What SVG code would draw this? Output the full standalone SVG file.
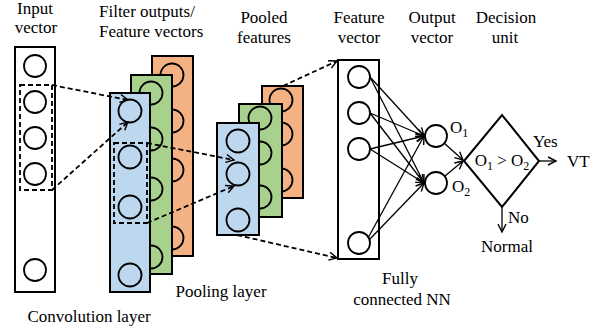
<svg xmlns="http://www.w3.org/2000/svg" width="602" height="333" viewBox="0 0 602 333">
<style>
text{font-family:"Liberation Serif","Times New Roman",serif;font-size:17px;fill:#000}
.box{stroke:#000;stroke-width:2}
.w{fill:#fff}.b{fill:#BDD7EE}.g{fill:#A9D18E}.o{fill:#F4B183}
.c{stroke:#000;stroke-width:1.8}
.dash{fill:none;stroke:#000;stroke-width:1.8;stroke-dasharray:5,3}
.ln{fill:none;stroke:#000;stroke-width:1.3}
</style>
<defs>
<marker id="ah" markerUnits="userSpaceOnUse" markerWidth="10" markerHeight="10" refX="8" refY="4" orient="auto" overflow="visible">
<path d="M0,0 L8,4 L0,8" fill="none" stroke="#000" stroke-width="1.4"/>
</marker>
</defs>

<g id="labels">
<text x="35" y="14" text-anchor="middle">Input</text>
<text x="36" y="33" text-anchor="middle">vector</text>
<text x="99" y="17">Filter outputs/</text>
<text x="99" y="37">Feature vectors</text>
<text x="264" y="23" text-anchor="middle">Pooled</text>
<text x="264" y="43" text-anchor="middle">features</text>
<text x="359" y="23" text-anchor="middle">Feature</text>
<text x="359" y="43" text-anchor="middle">vector</text>
<text x="432" y="23" text-anchor="middle">Output</text>
<text x="432" y="43" text-anchor="middle">vector</text>
<text x="506" y="23" text-anchor="middle">Decision</text>
<text x="505" y="43" text-anchor="middle">unit</text>
<text x="89" y="322" text-anchor="middle">Convolution layer</text>
<text x="221" y="297" text-anchor="middle">Pooling layer</text>
<text x="400" y="284" text-anchor="middle">Fully</text>
<text x="402" y="305" text-anchor="middle">connected NN</text>
</g>

<g id="input-vector">
<rect class="box w" x="15" y="47" width="40" height="245"/>
<circle class="c w" cx="35" cy="66" r="11"/>
<circle class="c w" cx="35" cy="102" r="11"/>
<circle class="c w" cx="35" cy="138" r="11"/>
<circle class="c w" cx="35" cy="174" r="11"/>
<circle class="c w" cx="35" cy="270" r="11"/>
<rect class="dash" x="20" y="85" width="32" height="105"/>
</g>

<g id="filter-orange">
<rect class="box o" x="152" y="56" width="41" height="200"/>
<circle class="c o" cx="172" cy="75" r="11.5"/>
<circle class="c o" cx="172" cy="121" r="11.5"/>
<circle class="c o" cx="172" cy="170" r="11.5"/>
<circle class="c o" cx="172" cy="238" r="11.5"/>
</g>
<g id="filter-green">
<rect class="box g" x="131" y="75" width="41" height="199"/>
<circle class="c g" cx="151" cy="93" r="11.5"/>
<circle class="c g" cx="151" cy="139" r="11.5"/>
<circle class="c g" cx="151" cy="189" r="11.5"/>
<circle class="c g" cx="151" cy="257" r="11.5"/>
</g>
<g id="filter-blue">
<rect class="box b" x="110" y="93" width="40" height="199"/>
<circle class="c b" cx="130" cy="111" r="11.5"/>
<circle class="c b" cx="130" cy="157" r="11.5"/>
<circle class="c b" cx="130" cy="207" r="11.5"/>
<circle class="c b" cx="130" cy="275" r="11.5"/>
<rect class="dash" x="114" y="143" width="33" height="80"/>
</g>

<g id="pooled-orange">
<rect class="box o" x="262" y="86" width="41" height="112"/>
<circle class="c o" cx="281" cy="100" r="11.5"/>
<circle class="c o" cx="281" cy="134" r="11.5"/>
<circle class="c o" cx="281" cy="180" r="11.5"/>
</g>
<g id="pooled-green">
<rect class="box g" x="239" y="104" width="43" height="113"/>
<circle class="c g" cx="260" cy="118" r="11.5"/>
<circle class="c g" cx="260" cy="153" r="11.5"/>
<circle class="c g" cx="260" cy="197" r="11.5"/>
</g>
<g id="pooled-blue">
<rect class="box b" x="217" y="123" width="42" height="112"/>
<circle class="c b" cx="238" cy="141" r="11.5"/>
<circle class="c b" cx="238" cy="174" r="11.5"/>
<circle class="c b" cx="238" cy="220" r="11.5"/>
</g>

<g id="feature-vector">
<rect class="box w" x="338" y="60" width="41" height="199"/>
<circle class="c w" cx="359" cy="77" r="11"/>
<circle class="c w" cx="359" cy="113" r="11"/>
<circle class="c w" cx="359" cy="149" r="11"/>
<circle class="c w" cx="359" cy="243" r="11"/>
</g>

<g id="output-vector">
<circle class="c w" cx="436" cy="136" r="11"/>
<circle class="c w" cx="436" cy="183" r="11"/>
<text x="450" y="133">O<tspan font-size="12" dy="4">1</tspan></text>
<text x="452" y="192">O<tspan font-size="12" dy="4">2</tspan></text>
</g>

<g id="decision-unit">
<polygon points="464,161 502,115 539,161 502,207" fill="#fff" stroke="#000" stroke-width="2"/>
<text x="502" y="166" text-anchor="middle">O<tspan font-size="12" dy="4">1</tspan><tspan dy="-4"> &gt; O</tspan><tspan font-size="12" dy="4">2</tspan></text>
<text x="533" y="147">Yes</text>
<text x="567" y="167">VT</text>
<text x="508" y="223">No</text>
<text x="507" y="252" text-anchor="middle">Normal</text>
</g>

<g id="connectors">
<line class="dash" x1="52" y1="85" x2="128" y2="100" marker-end="url(#ah)"/>
<line class="dash" x1="52" y1="190" x2="128" y2="122" marker-end="url(#ah)"/>
<line class="dash" x1="147" y1="143" x2="234" y2="160" marker-end="url(#ah)"/>
<line class="dash" x1="147" y1="223" x2="234" y2="186" marker-end="url(#ah)"/>
<line class="dash" x1="283" y1="86" x2="337" y2="61" marker-end="url(#ah)"/>
<line class="dash" x1="237" y1="235" x2="337" y2="258" marker-end="url(#ah)"/>

<line class="ln" x1="370" y1="77" x2="424" y2="136" marker-end="url(#ah)"/>
<line class="ln" x1="370" y1="77" x2="424" y2="183" marker-end="url(#ah)"/>
<line class="ln" x1="370" y1="113" x2="424" y2="136" marker-end="url(#ah)"/>
<line class="ln" x1="370" y1="113" x2="424" y2="183" marker-end="url(#ah)"/>
<line class="ln" x1="370" y1="149" x2="424" y2="136" marker-end="url(#ah)"/>
<line class="ln" x1="370" y1="149" x2="424" y2="183" marker-end="url(#ah)"/>
<line class="ln" x1="368" y1="238" x2="424" y2="136" marker-end="url(#ah)"/>
<line class="ln" x1="369" y1="240" x2="424" y2="183" marker-end="url(#ah)"/>

<line class="ln" x1="444" y1="143" x2="463" y2="160" marker-end="url(#ah)"/>
<line class="ln" x1="445" y1="176" x2="463" y2="161" marker-end="url(#ah)"/>
<line class="ln" x1="539" y1="161" x2="556" y2="161" marker-end="url(#ah)"/>
<line class="ln" x1="502" y1="207" x2="502" y2="232" marker-end="url(#ah)"/>
</g>
</svg>
